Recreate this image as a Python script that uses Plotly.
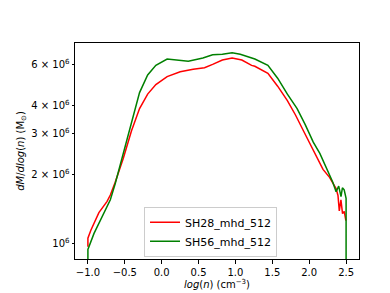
import plotly.graph_objects as go

# log(n) positions and dM/dlog(n) values
x_sh28 = [-1.0, -1.0, -0.96, -0.851, -0.74, -0.696, -0.63, -0.52, -0.41, -0.30, -0.19, -0.079,
          0.074, 0.251, 0.427, 0.581, 0.691, 0.823, 0.955, 1.087, 1.219, 1.263, 1.44, 1.572,
          1.704, 1.814, 1.923, 2.011, 2.10, 2.187, 2.276, 2.33, 2.364, 2.39, 2.408, 2.43,
          2.452, 2.475, 2.497]
y_sh28 = [0.97e6, 1.056e6, 1.144e6, 1.364e6, 1.527e6, 1.628e6, 1.851e6, 2.353e6, 3.09e6, 3.87e6,
          4.472e6, 4.922e6, 5.333e6, 5.595e6, 5.742e6, 5.831e6, 6.025e6, 6.297e6, 6.42e6,
          6.297e6, 5.967e6, 5.91e6, 5.504e6, 4.842e6, 4.193e6, 3.628e6, 3.09e6, 2.719e6,
          2.353e6, 2.103e6, 1.942e6, 1.80e6, 1.735e6, 1.62e6, 1.387e6, 1.55e6, 1.35e6,
          1.38e6, 1.26e6]

x_sh56 = [-1.0, -1.0, -0.917, -0.785, -0.696, -0.63, -0.52, -0.41, -0.30, -0.19, -0.079,
          0.074, 0.206, 0.361, 0.559, 0.691, 0.823, 0.955, 1.065, 1.263, 1.44, 1.572, 1.704,
          1.836, 1.946, 2.055, 2.144, 2.232, 2.32, 2.364, 2.40, 2.431, 2.45, 2.474, 2.49,
          2.50, 2.50]
y_sh56 = [0.80e6, 0.944e6, 1.108e6, 1.343e6, 1.552e6, 1.821e6, 2.47e6, 3.296e6, 4.541e6,
          5.42e6, 5.967e6, 6.359e6, 6.297e6, 6.219e6, 6.42e6, 6.633e6, 6.672e6, 6.761e6,
          6.672e6, 6.359e6, 5.967e6, 5.246e6, 4.472e6, 3.87e6, 3.296e6, 2.764e6, 2.47e6,
          2.138e6, 1.851e6, 1.681e6, 1.78e6, 1.602e6, 1.75e6, 1.714e6, 1.60e6, 1.576e6, 0.5e6]

series_names = ["SH28_mhd_512", "SH56_mhd_512"]

y_tickvals = [1e6, 2e6, 3e6, 4e6, 6e6]
y_ticktext = ["10<sup>6</sup>", "2 × 10<sup>6</sup>", "3 × 10<sup>6</sup>",
              "4 × 10<sup>6</sup>", "6 × 10<sup>6</sup>"]
x_tickvals = [-1.0, -0.5, 0.0, 0.5, 1.0, 1.5, 2.0, 2.5]
x_ticktext = ["−1.0", "−0.5", "0.0", "0.5", "1.0", "1.5", "2.0", "2.5"]

fig = go.Figure()
fig.add_trace(go.Scatter(x=x_sh28, y=y_sh28, mode="lines", name=series_names[0],
                         line=dict(color="#ff0000", width=1.5)))
fig.add_trace(go.Scatter(x=x_sh56, y=y_sh56, mode="lines", name=series_names[1],
                         line=dict(color="#008000", width=1.5)))

fig.update_layout(
    width=390, height=293,
    margin=dict(l=58, r=39, t=35, b=33),
    paper_bgcolor="white", plot_bgcolor="white",
    font=dict(family="DejaVu Sans", size=10, color="black"),
    showlegend=True,
    legend=dict(x=0.243, xanchor="left", y=0.01, yanchor="bottom",
                bgcolor="rgba(255,255,255,0.8)", bordercolor="#cccccc", borderwidth=1,
                font=dict(size=11), itemwidth=30, tracegroupgap=0),
)
fig.update_xaxes(range=[-1.175, 2.675], tickvals=x_tickvals, ticktext=x_ticktext,
                 ticks="outside", ticklen=3.5, tickcolor="black", showgrid=False,
                 zeroline=False, showline=True, linecolor="black", linewidth=1, mirror=True,
                 title=dict(text="<i>log</i>(<i>n</i>) (cm<sup>−3</sup>)", standoff=4,
                            font=dict(size=10)))
fig.update_yaxes(type="log", range=[5.933, 6.873], tickvals=y_tickvals, ticktext=y_ticktext,
                 ticks="outside", ticklen=2.5, tickcolor="black", showgrid=False,
                 zeroline=False, showline=True, linecolor="black", linewidth=1, mirror=True,
                 title=dict(text="<i>dM</i>/<i>dlog</i>(<i>n</i>) (M<sub>⊙</sub>)", standoff=4,
                            font=dict(size=10)))

fig.write_html("out.html")
